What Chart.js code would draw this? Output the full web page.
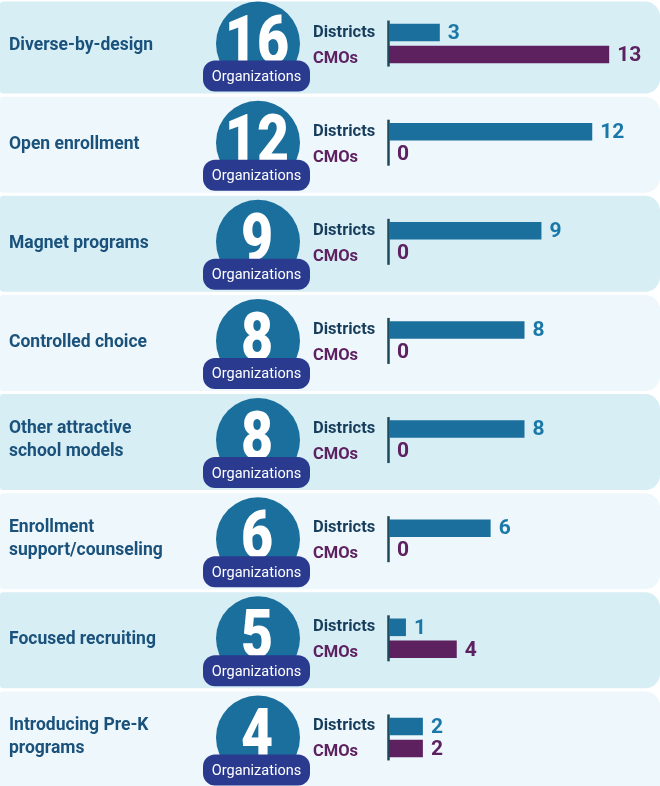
<!DOCTYPE html>
<html lang="en">
<head>
    <meta charset="UTF-8">
    <title>Strategies by organization type</title>
    <script src="https://cdn.jsdelivr.net/npm/chart.js"></script>
    <style>
        body {
            margin: 0;
            padding: 0;
            background-color: #fff;
            width: 660px;
            height: 786px;
            overflow: hidden;
            position: relative;
        }

        .chart-container {
            position: absolute;
            left: 0;
            top: -6px;
            width: 660px;
            height: 793px;
        }
    </style>
</head>
<body>
<div class="chart-container">
    <canvas id="strategyChart"></canvas>
</div>

<script>
    // Datos
    const strategies = [
        ['Diverse-by-design'],
        ['Open enrollment'],
        ['Magnet programs'],
        ['Controlled choice'],
        ['Other attractive', 'school models'],
        ['Enrollment', 'support/counseling'],
        ['Focused recruiting'],
        ['Introducing Pre-K', 'programs']
    ];
    const totalOrganizations = [16, 12, 9, 8, 8, 6, 5, 4];
    const districts = [3, 12, 9, 8, 8, 6, 1, 2];
    const cmos = [13, 0, 0, 0, 0, 0, 4, 2];
    const seriesNames = ['Districts', 'CMOs'];

    const BLUE = '#1b6f9d';
    const PURPLE = '#5d2160';
    const FONT = 'Roboto, "Noto Sans", Arial, sans-serif';

    function roundRect(ctx, x, y, w, h, r) {
        // r = [tl, tr, br, bl]
        ctx.beginPath();
        ctx.moveTo(x + r[0], y);
        ctx.lineTo(x + w - r[1], y);
        ctx.arcTo(x + w, y, x + w, y + r[1], r[1]);
        ctx.lineTo(x + w, y + h - r[2]);
        ctx.arcTo(x + w, y + h, x + w - r[2], y + h, r[2]);
        ctx.lineTo(x + r[3], y + h);
        ctx.arcTo(x, y + h, x, y + h - r[3], r[3]);
        ctx.lineTo(x, y + r[0]);
        ctx.arcTo(x, y, x + r[0], y, r[0]);
        ctx.closePath();
    }

    // Fondo de filas, circulos y etiquetas
    const decorPlugin = {
        id: 'decor',
        beforeDatasetsDraw(chart) {
            const ctx = chart.ctx;
            const yScale = chart.scales.y;
            const xScale = chart.scales.x;
            const x0 = xScale.getPixelForValue(0);
            ctx.save();
            strategies.forEach(function (label, i) {
                const c = yScale.getPixelForValue(i);
                const top = i === 0 ? c - 42 : c - 46;
                const bottom = i === strategies.length - 1 ? chart.height + 20 : c + 50;
                ctx.fillStyle = i % 2 === 0 ? '#d7eef5' : '#eef7fb';
                roundRect(ctx, 0, top, chart.width, bottom - top, [3, 15, 15, 3]);
                ctx.fill();

                // categoria
                ctx.fillStyle = '#1a527c';
                ctx.font = 'bold 17.5px ' + FONT;
                ctx.textAlign = 'left';
                ctx.textBaseline = 'alphabetic';
                if (label.length === 1) {
                    ctx.fillText(label[0], 9, c + 6);
                } else {
                    ctx.fillText(label[0], 9, c - 7);
                    ctx.fillText(label[1], 9, c + 16);
                }

                // circulo con el total
                ctx.fillStyle = BLUE;
                ctx.beginPath();
                ctx.arc(258, c, 42, 0, Math.PI * 2);
                ctx.fill();

                ctx.save();
                ctx.translate(257, c + 19);
                ctx.scale(0.84, 1);
                ctx.fillStyle = '#fff';
                ctx.font = '900 66px ' + FONT;
                ctx.textAlign = 'center';
                ctx.fillText(String(totalOrganizations[i]), 0, 0);
                ctx.restore();

                ctx.fillStyle = '#2a3a8e';
                roundRect(ctx, 203, c + 17, 107, 31, [12, 12, 12, 12]);
                ctx.fill();
                ctx.fillStyle = '#fff';
                ctx.font = '14.5px ' + FONT;
                ctx.textAlign = 'center';
                ctx.fillText('Organizations', 256.5, c + 37.5);

                // nombres de serie
                ctx.textAlign = 'left';
                ctx.font = 'bold 16.5px ' + FONT;
                ctx.fillStyle = '#173d5c';
                ctx.fillText(seriesNames[0], 313, c - 7);
                ctx.fillStyle = PURPLE;
                ctx.fillText(seriesNames[1], 313, c + 19);

                // eje
                ctx.strokeStyle = '#1d4a5a';
                ctx.lineWidth = 2.5;
                ctx.beginPath();
                ctx.moveTo(x0 - 0.5, c - 23);
                ctx.lineTo(x0 - 0.5, c + 23);
                ctx.stroke();
            });
            ctx.restore();
        },
        afterDatasetsDraw(chart) {
            const ctx = chart.ctx;
            ctx.save();
            ctx.font = 'bold 21px ' + FONT;
            ctx.textAlign = 'left';
            ctx.textBaseline = 'middle';
            chart.data.datasets.forEach(function (ds, di) {
                const meta = chart.getDatasetMeta(di);
                ctx.fillStyle = di === 0 ? '#1a78a9' : PURPLE;
                meta.data.forEach(function (bar, i) {
                    ctx.fillText(String(ds.data[i]), bar.x + 8, bar.y + 1);
                });
            });
            ctx.restore();
        }
    };

    const ctx = document.getElementById('strategyChart').getContext('2d');
    const chart = new Chart(ctx, {
        type: 'bar',
        data: {
            labels: strategies,
            datasets: [{
                label: seriesNames[0],
                data: districts,
                backgroundColor: BLUE,
                borderWidth: 0
            }, {
                label: seriesNames[1],
                data: cmos,
                backgroundColor: PURPLE,
                borderWidth: 0
            }]
        },
        options: {
            indexAxis: 'y',
            responsive: true,
            maintainAspectRatio: false,
            animation: false,
            categoryPercentage: 0.444,
            barPercentage: 0.8,
            layout: {
                padding: { left: 389, right: 0, top: 0, bottom: 0 }
            },
            scales: {
                x: { display: false, min: 0, max: 16 },
                y: { display: false }
            },
            plugins: {
                legend: { display: false },
                tooltip: { enabled: false }
            }
        },
        plugins: [decorPlugin]
    });
</script>
</body>
</html>
